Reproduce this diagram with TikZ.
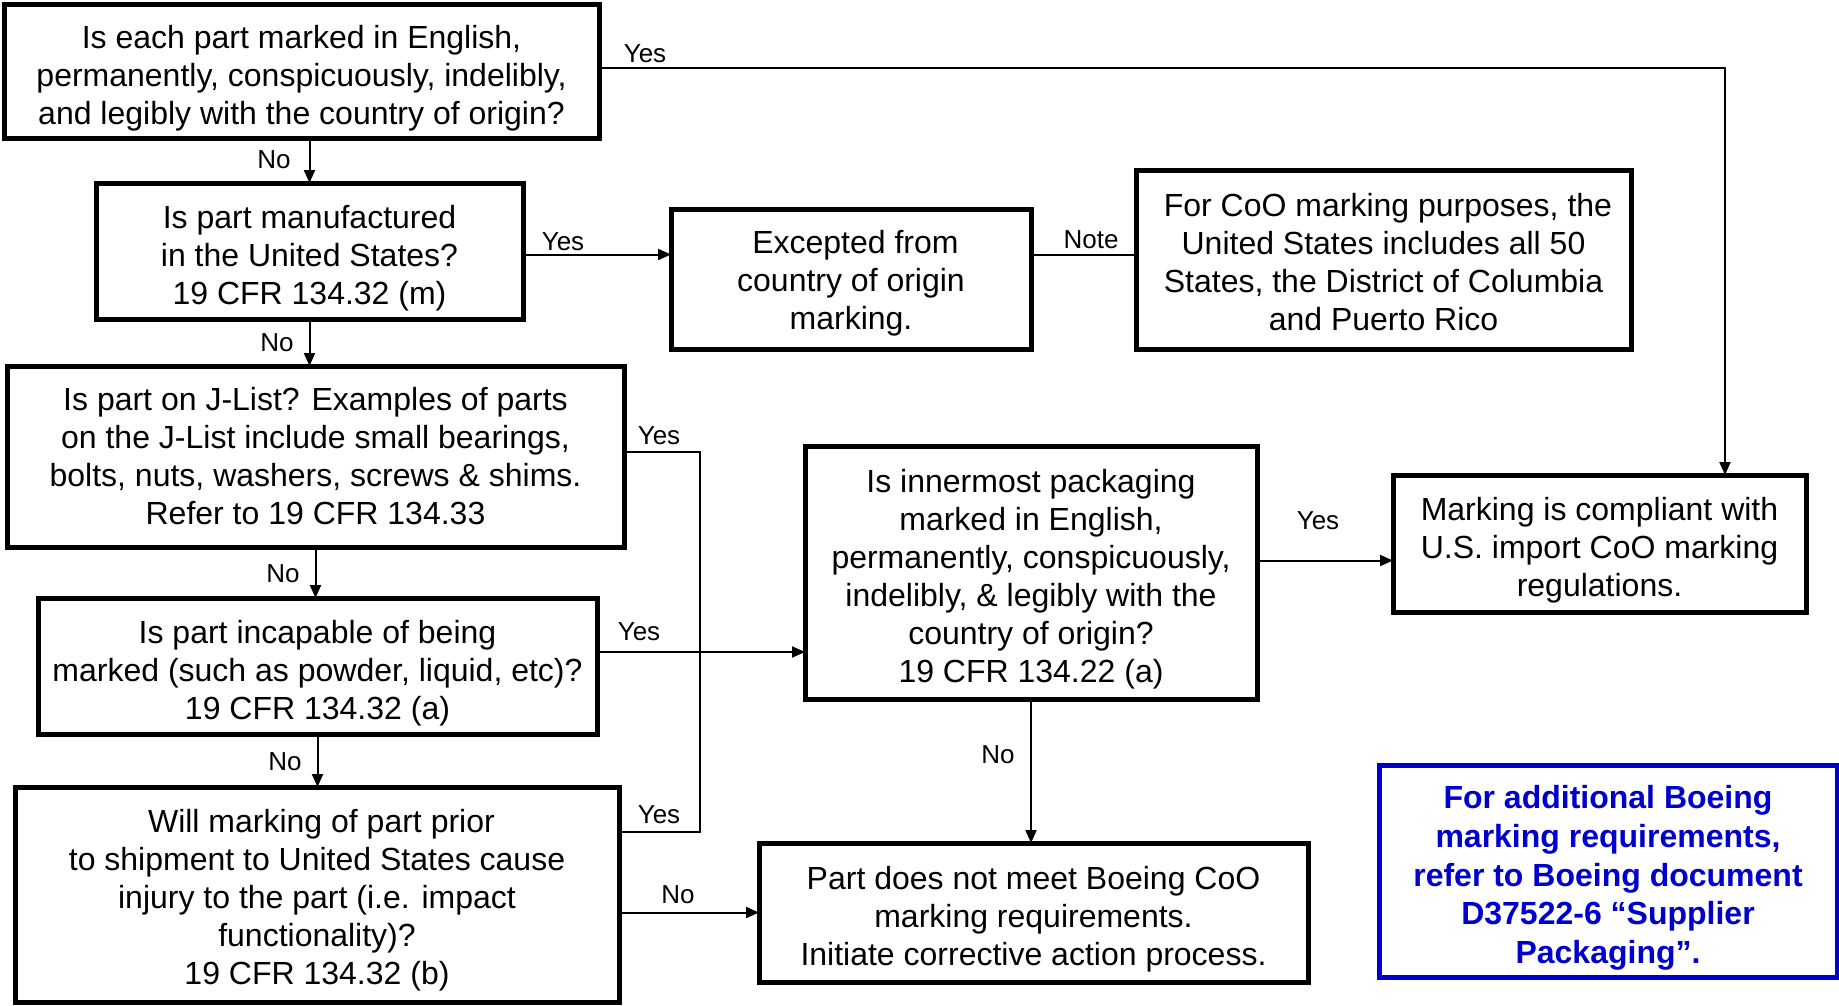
\documentclass[tikz,border=0pt]{standalone}
\usepackage{fontspec}
\setmainfont{Liberation Sans}
\usetikzlibrary{arrows.meta,calc}
\definecolor{boeblue}{RGB}{0,0,204}
\newcommand{\tpad}[1][37pt]{\rule{0pt}{#1}}
\begin{document}
\begin{tikzpicture}[x=1pt,y=1pt,
  box/.style={draw,line width=5pt,align=center,inner sep=0pt,outer sep=0pt,
    font=\fontsize{32}{38}\selectfont},
  bluebox/.style={box,draw=boeblue,text=boeblue,font=\fontsize{32}{38.6}\selectfont\bfseries},
  conn/.style={line width=2pt},
  arr/.style={conn,-{Triangle[length=13pt,width=11pt]}},
  lab/.style={font=\fontsize{26}{30}\selectfont,inner sep=0pt}]
\useasboundingbox (0,0) rectangle (1839,-1005);
\fill[white] (0,0) rectangle (1839,-1005);

\node[box,minimum width=595,minimum height=134] (b1) at (301.5,-71)
  {\tpad Is each part marked in English,\\permanently, conspicuously, indelibly,\\and legibly with the country of origin?};
\node[box,minimum width=427,minimum height=136] (b2) at (309.5,-251)
  {\tpad Is part manufactured\\in the United States?\\19 CFR 134.32 (m)};
\node[box,minimum width=360,minimum height=140] (b3) at (851,-279)
  {\tpad[31pt] Excepted from\\country of origin\\marking.};
\node[box,minimum width=495,minimum height=179] (b4) at (1383.5,-259.5)
  {\tpad[29pt] For CoO marking purposes, the\\United States includes all 50\\States, the District of Columbia\\and Puerto Rico};
\node[box,minimum width=617,minimum height=181] (b5) at (315.5,-456.5)
  {Is part on J-List? Examples of parts\\on the J-List include small bearings,\\bolts, nuts, washers, screws \& shims.\\Refer to 19 CFR 134.33};
\node[box,minimum width=559,minimum height=136] (b6) at (317.5,-666)
  {\tpad Is part incapable of being\\marked (such as powder, liquid, etc)?\\19 CFR 134.32 (a)};
\node[box,minimum width=604,minimum height=215] (b7) at (317,-894.5)
  {\tpad[34pt] Will marking of part prior\\to shipment to United States cause\\injury to the part (i.e. impact\\functionality)?\\19 CFR 134.32 (b)};
\node[box,minimum width=452,minimum height=253] (b8) at (1031,-572.5)
  {\tpad Is innermost packaging\\marked in English,\\permanently, conspicuously,\\indelibly, \& legibly with the\\country of origin?\\19 CFR 134.22 (a)};
\node[box,minimum width=413,minimum height=137] (b9) at (1599.5,-543.5)
  {\tpad Marking is compliant with\\U.S. import CoO marking\\regulations.};
\node[box,minimum width=549,minimum height=139] (b10) at (1033.5,-912.5)
  {\tpad Part does not meet Boeing CoO\\marking requirements.\\Initiate corrective action process.};
\node[bluebox,minimum width=458,minimum height=212] (b11) at (1608,-871)
  {\tpad For additional Boeing\\marking requirements,\\refer to Boeing document\\D37522-6 “Supplier\\Packaging”.};

% coordinates
\coordinate (yesturn) at (1725,-68);
\coordinate (vtop) at (700,-451.5);
\coordinate (vbot) at (700,-831.5);
\coordinate (y6) at (0,-652);
\coordinate (y8) at (0,-560.5);
\coordinate (y2) at (0,-254.5);

% connectors
\draw[arr] (b1.east |- yesturn) -- (yesturn) -- (yesturn |- b9.north);
\draw[arr] (b1.south -| b2.north) -- (b2.north);
\draw[arr] (b2.east |- y2) -- (b3.west |- y2);
\draw[conn] (b3.east |- y2) -- (b4.west |- y2);
\draw[arr] (b2.south) -- (b2.south |- b5.north);
\draw[arr] (b5.south) -- (b5.south |- b6.north);
\draw[arr] (b6.south) -- (b6.south |- b7.north);
\draw[conn] (b5.east |- vtop) -- (vtop) -- (vbot) -- (b7.east |- vbot);
\draw[arr] (b6.east |- y6) -- (b8.west |- y6);
\draw[arr] (b8.east |- y8) -- (b9.west |- y8);
\draw[arr] (b8.south) -- (b8.south |- b10.north);
\draw[arr] (b7.east |- b10.west) -- (b10.west);

% labels
\node[lab] (l1) at (645,-54) {Yes};
\node[lab] (l2) at (274,-159.5) {No};
\node[lab] (l3) at (563,-241.6) {Yes};
\node[lab] (l4) at (1091,-240) {Note};
\node[lab] (l5) at (277,-342.5) {No};
\node[lab] (l6) at (659,-436) {Yes};
\node[lab] (l7) at (283,-573.5) {No};
\node[lab] (l8) at (639,-632) {Yes};
\node[lab] (l9) at (285,-762) {No};
\node[lab] (l10) at (659,-815) {Yes};
\node[lab] (l11) at (1318,-520.7) {Yes};
\node[lab] (l12) at (998,-755) {No};
\node[lab] (l13) at (678,-895) {No};
\end{tikzpicture}
\end{document}
